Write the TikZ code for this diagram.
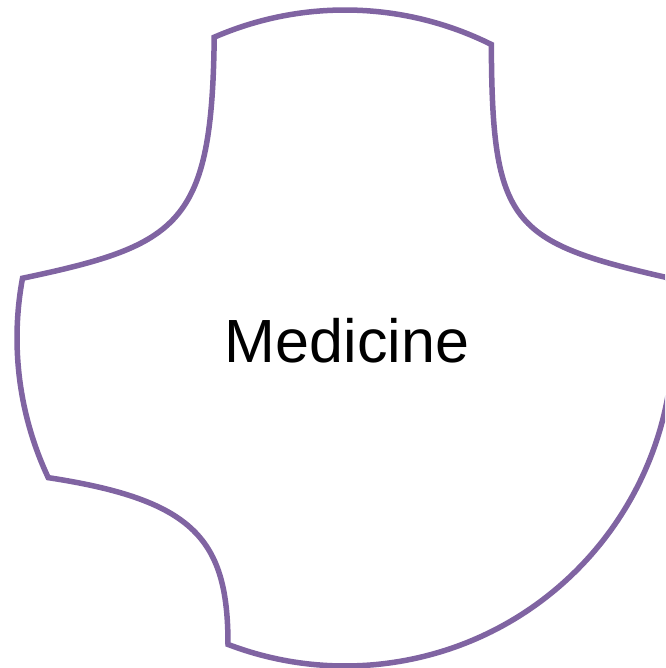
\documentclass[tikz,border=0pt]{standalone}
\usepackage{fontspec}
\setmainfont{Liberation Sans}
\usepackage{tikz}
\usetikzlibrary{positioning}
\usepackage{xcolor}
\definecolor{piecepurple}{RGB}{128,100,162}

\begin{document}
\begin{tikzpicture}[x=1pt, y=-1pt,
    piece/.style={draw=piecepurple, line width=5.5pt, line join=miter},
    topic/.style={font=\fontsize{61}{61}\selectfont, text=black, inner sep=0pt, anchor=base}]

    \useasboundingbox (0,0) rectangle (665,668);
    \clip (0,0) rectangle (665,668);

    \begin{scope}[shift={(345,338)}]
        % puzzle piece: circle with three notches cut out
        \draw[piece] (246.5:328) arc[start angle=246.5, end angle=296.5, radius=328]
            .. controls (147,-113) and (166,-96) .. (349.4:328)
            arc[start angle=349.4, end angle=470.9, radius=328]
            .. controls (-117,202) and (-150,162) .. (154.8:328)
            arc[start angle=154.8, end angle=190.5, radius=328]
            .. controls (-165,-93) and (-133,-113) .. (246.5:328) -- cycle;

        \node[topic] (medicine) at (2,24) {Medicine};
    \end{scope}
\end{tikzpicture}
\end{document}
